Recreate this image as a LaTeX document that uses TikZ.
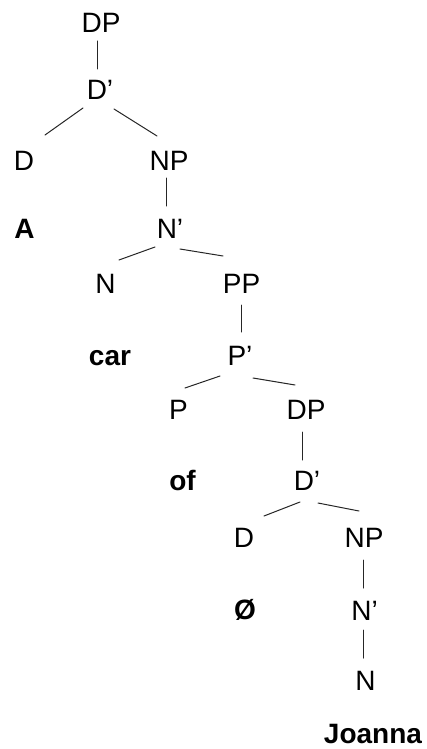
\documentclass[tikz,border=0pt]{standalone}
\usepackage{fontspec}
\setmainfont{Liberation Sans}
\begin{document}
\begin{tikzpicture}[x=1pt,y=-1pt,
  lab/.style={anchor=base,inner sep=0pt,font=\fontsize{28}{32}\selectfont},
  word/.style={lab,font=\fontsize{28}{32}\selectfont\bfseries},
  edge/.style={line width=1pt,line cap=round,draw=black!85}]
\useasboundingbox (0,0) rectangle (427,749);

% category labels and words, placed on their baselines
\node[lab]  (r1)  at (101,33)    {DP};
\node[lab]  (d1)  at (100,100)   {D’};
\node[lab]  (dh1) at (24,170)    {D};
\node[lab]  (np1) at (169,170)   {NP};
\node[word] (wa)  at (24.5,238)  {A};
\node[lab]  (nb1) at (170,238)   {N’};
\node[lab]  (nh1) at (105.5,293) {N};
\node[lab]  (pp)  at (241.5,293) {PP};
\node[word] (wcar) at (110,365)  {car};
\node[lab]  (pb)  at (240,365)   {P’};
\node[lab]  (ph)  at (178.5,419) {P};
\node[lab]  (dp2) at (306,419)   {DP};
\node[word] (wof) at (182.5,490) {of};
\node[lab]  (db2) at (307,490)   {D’};
\node[lab]  (dh2) at (244,547)   {D};
\node[lab]  (np2) at (364,547)   {NP};
\node[word] (wnull) at (245,619) {Ø};
\node[lab]  (nb2) at (364.5,620) {N’};
\node[lab]  (nh2) at (365.5,690) {N};
\node[word] (wjo) at (373,743.5) {Joanna};

% branches
\draw[edge] ([shift={(-4,8)}]r1.base)    -- ([shift={(-3,-31)}]d1.base);
\draw[edge] ([shift={(-17,8)}]d1.base)   -- ([shift={(21,-35)}]dh1.base);
\draw[edge] ([shift={(14,9)}]d1.base)    -- ([shift={(-12,-34)}]np1.base);
\draw[edge] ([shift={(-3,8)}]np1.base)   -- ([shift={(-4,-32)}]nb1.base);
\draw[edge] ([shift={(-15,9)}]nb1.base)  -- ([shift={(13.5,-33)}]nh1.base);
\draw[edge] ([shift={(10,11)}]nb1.base)  -- ([shift={(-18.5,-37)}]pp.base);
\draw[edge] ([shift={(-0.5,12)}]pp.base) -- ([shift={(1,-33)}]pb.base);
\draw[edge] ([shift={(-20,11)}]pb.base)  -- ([shift={(6.5,-31)}]ph.base);
\draw[edge] ([shift={(13,13)}]pb.base)   -- ([shift={(-11,-34)}]dp2.base);
\draw[edge] ([shift={(-4,13)}]dp2.base)  -- ([shift={(-5,-30)}]db2.base);
\draw[edge] ([shift={(-7,12)}]db2.base)  -- ([shift={(20,-31)}]dh2.base);
\draw[edge] ([shift={(11,13)}]db2.base)  -- ([shift={(-5,-36)}]np2.base);
\draw[edge] ([shift={(-1,13)}]np2.base)  -- ([shift={(-1.5,-32)}]nb2.base);
\draw[edge] ([shift={(-1.5,10)}]nb2.base) -- ([shift={(-2.5,-32)}]nh2.base);
\end{tikzpicture}
\end{document}
